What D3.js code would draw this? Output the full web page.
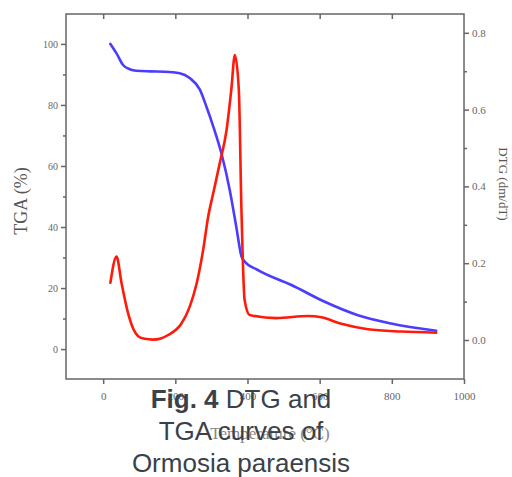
<!DOCTYPE html>
<html>
<head>
<meta charset="utf-8">
<script src="https://cdn.jsdelivr.net/npm/d3@7"></script>
<style>
body { margin: 0; background: #fff; }
svg { display: block; }
.ax path, .ax line { stroke: #666; stroke-width: 1.5; }
.ax text { font-family: "Liberation Serif", serif; font-size: 11px; fill: #666; }
.ax.yl text { font-size: 10px; }
</style>
</head>
<body>
<div id="chart"></div>
<script>
// TGA curve, temperature (C) vs mass (%)
var tgaTemp = [20, 37, 55, 74, 92, 130, 170, 212, 240, 268, 286, 305, 328, 351, 369, 383, 392, 429, 522, 614, 706, 798, 923];
var tgaVal  = [100, 96.9, 93.1, 91.7, 91.2, 91, 90.9, 90.4, 88.8, 85, 79.5, 73, 64, 52, 40, 30.5, 28.7, 25.9, 21, 15.5, 11.1, 8.4, 6];

// DTG curve, temperature (C) vs dm/dT
var dtgTemp = [20, 37, 51, 69, 83, 97, 115, 138, 160, 180, 217, 240, 259, 277, 291, 305, 323, 342, 355, 365, 376, 383, 392, 406, 480, 568, 605, 660, 734, 826, 923];
var dtgVal  = [0.149, 0.217, 0.148, 0.07, 0.03, 0.01, 0.003, 0.001, 0.004, 0.013, 0.043, 0.087, 0.147, 0.234, 0.321, 0.382, 0.46, 0.547, 0.651, 0.742, 0.651, 0.347, 0.104, 0.065, 0.057, 0.0625, 0.059, 0.042, 0.028, 0.022, 0.019];

var xTicks = [0, 200, 400, 600, 800, 1000];
var leftTicks = [0, 20, 40, 60, 80, 100];
var rightTicks = [0, 0.2, 0.4, 0.6, 0.8];

var width = 512, height = 477;
var pLeft = 66, pRight = 464, pTop = 14, pBottom = 379;

var svg = d3.select("#chart").append("svg")
    .attr("width", width)
    .attr("height", height);

var x = d3.scaleLinear().domain([-103, 1000]).range([pLeft, pRight]);
var y = d3.scaleLinear().domain([-9.8, 109.8]).range([pBottom, pTop]);
var y2 = d3.scaleLinear().domain([-0.1016, 0.849]).range([pBottom, pTop]);

// frame
svg.append("rect")
    .attr("x", pLeft).attr("y", pTop)
    .attr("width", pRight - pLeft).attr("height", pBottom - pTop)
    .attr("fill", "none").attr("stroke", "#666").attr("stroke-width", 1.5);

// minor ticks
svg.append("g").attr("class", "ax")
    .attr("transform", "translate(" + pLeft + ",0)")
    .call(d3.axisLeft(y).tickValues([10, 30, 50, 70, 90]).tickSize(3).tickFormat(""))
    .select(".domain").remove();
svg.append("g").attr("class", "ax")
    .attr("transform", "translate(" + pRight + ",0)")
    .call(d3.axisRight(y2).tickValues([0.1, 0.3, 0.5, 0.7]).tickSize(3).tickFormat(""))
    .select(".domain").remove();

// major axes
svg.append("g").attr("class", "ax yl")
    .attr("transform", "translate(" + pLeft + ",0)")
    .call(d3.axisLeft(y).tickValues(leftTicks).tickSize(5).tickPadding(3))
    .select(".domain").remove();
svg.append("g").attr("class", "ax")
    .attr("transform", "translate(" + pRight + ",0)")
    .call(d3.axisRight(y2).tickValues(rightTicks).tickSize(5).tickPadding(3).tickFormat(d3.format(".1f")))
    .select(".domain").remove();
svg.append("g").attr("class", "ax")
    .attr("transform", "translate(0," + pBottom + ")")
    .call(d3.axisBottom(x).tickValues(xTicks).tickSize(5).tickPadding(8).tickFormat(d3.format("d")))
    .select(".domain").remove();
svg.append("g").attr("class", "ax")
    .attr("transform", "translate(0," + pTop + ")")
    .call(d3.axisBottom(x).tickValues(xTicks.slice(0, 5)).tickSize(5).tickFormat(""))
    .select(".domain").remove();

// axis titles
svg.append("text")
    .attr("transform", "translate(27,201) rotate(-90)")
    .attr("text-anchor", "middle")
    .style("font-family", "Liberation Serif, serif").style("font-size", "18px").style("fill", "#555")
    .text("TGA (%)");
svg.append("text")
    .attr("transform", "translate(499,184) rotate(90)")
    .attr("text-anchor", "middle")
    .style("font-family", "Liberation Serif, serif").style("font-size", "13px").style("fill", "#555")
    .text("DTG (dm/dT)");
svg.append("text")
    .attr("x", 270).attr("y", 439)
    .attr("text-anchor", "middle")
    .style("font-family", "Liberation Serif, serif").style("font-size", "17px").style("fill", "#888")
    .text("Temperature (\u00B0C)");

// curves
var tgaLine = d3.line()
    .x(function (d, i) { return x(tgaTemp[i]); })
    .y(function (d, i) { return y(tgaVal[i]); })
    .curve(d3.curveMonotoneX);
var dtgLine = d3.line()
    .x(function (d, i) { return x(dtgTemp[i]); })
    .y(function (d, i) { return y2(dtgVal[i]); })
    .curve(d3.curveMonotoneX);

svg.append("path")
    .datum(tgaTemp)
    .attr("d", tgaLine)
    .attr("fill", "none")
    .attr("stroke", "#4b3cff")
    .attr("stroke-width", 2.6)
    .attr("stroke-linejoin", "round")
    .attr("stroke-linecap", "round");
svg.append("path")
    .datum(dtgTemp)
    .attr("d", dtgLine)
    .attr("fill", "none")
    .attr("stroke", "#ff1a0a")
    .attr("stroke-width", 2.6)
    .attr("stroke-linejoin", "round")
    .attr("stroke-linecap", "round");

// caption
var cap = svg.append("text")
    .attr("text-anchor", "middle")
    .style("font-family", "Liberation Sans, Arial, sans-serif")
    .style("font-size", "26px")
    .style("fill", "#3b4148");
var l1 = cap.append("tspan").attr("x", 241).attr("y", 408);
l1.append("tspan").style("font-weight", "bold").text("Fig. 4");
l1.append("tspan").text(" DTG and");
cap.append("tspan").attr("x", 241).attr("y", 440).text("TGA curves of");
cap.append("tspan").attr("x", 241).attr("y", 472).text("Ormosia paraensis");
</script>
</body>
</html>
